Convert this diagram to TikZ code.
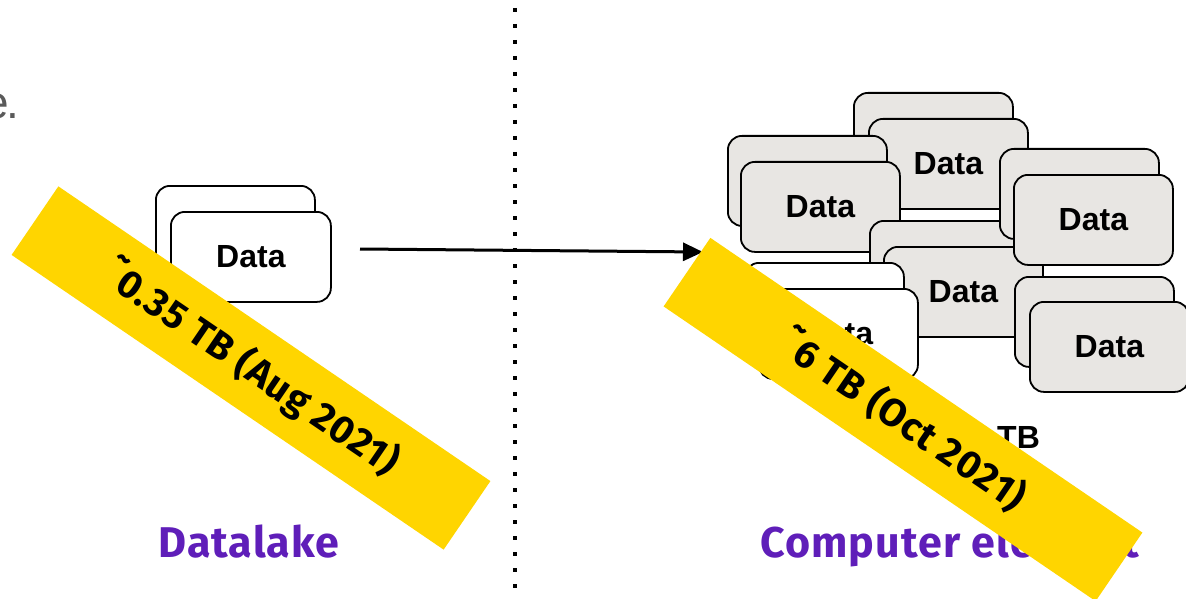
\documentclass[tikz,border=0pt]{standalone}
\usepackage{fontspec}
\setmainfont{Liberation Sans}
\newfontfamily\arialf{Liberation Sans}
\newfontfamily\ubf[LetterSpace=2.5]{Fira Sans}
\usetikzlibrary{arrows.meta}
\definecolor{cardgray}{HTML}{E8E6E3}
\definecolor{bandyellow}{HTML}{FFD500}
\definecolor{labelpurple}{HTML}{5F1EB9}
\definecolor{greytext}{HTML}{5A5A5A}
\begin{document}
\begin{tikzpicture}[x=1pt,y=-1pt,
 card/.style={draw=black, line width=1.8pt, rounded corners=14pt, fill=cardgray,
   minimum width=159pt, minimum height=90pt, inner sep=0pt, anchor=north west,
   font=\arialf\bfseries\fontsize{32}{36}\selectfont},
 wcard/.style={card, fill=white},
 band/.style={fill=bandyellow, minimum width=523pt, minimum height=83pt, inner sep=0pt,
   font=\ubf\bfseries\fontsize{39}{42}\selectfont},
 lbl/.style={text=labelpurple, font=\ubf\bfseries\fontsize{43}{48}\selectfont, anchor=base},
 conn/.style={line width=3pt, -{Triangle[length=20pt,width=18pt]}},
 dotline/.style={line width=4pt, dash pattern=on 4pt off 12pt}]
\useasboundingbox (0,0) rectangle (1186,599);

% fragment of text at top left
\node[anchor=base east, inner sep=0pt, text=greytext,
  font=\arialf\fontsize{46}{50}\selectfont] (frag) at (19,119) {e\kern-3pt.};

% dotted separator
\coordinate (septop) at (515,8);
\coordinate (sepbot) at (515,592);
\draw[dotline] (septop) -- (sepbot);

% left stack
\node[wcard] (Lb) at (155,185) {};
\node[wcard, minimum width=160pt] (Lf) at (170,211) {Data};

% right stacks
\node[card] (S1b) at (853,92) {};
\node[card] (S1f) at (868,118) {Data};
\node[card] (S2b) at (727,135) {};
\node[card] (S2f) at (740,161) {Data};
\node[card] (S4b) at (869,220) {};
\node[card] (S4f) at (883,246) {Data};
\node[card] (S3b) at (999,148) {};
\node[card] (S3f) at (1013,174) {Data};
\node[wcard] (S5b) at (744,262) {};
\node[wcard] (S5f) at (758,288) {Data};
\node[card] (S6b) at (1014,276) {};
\node[card] (S6f) at (1029,301) {Data};

% partially hidden size text
\node[anchor=base west, inner sep=0pt, font=\arialf\bfseries\fontsize{32}{36}\selectfont] (tb) at (997,448) {TB};

% labels
\node[lbl] (dl) at (249,557) {Datalake};
\node[lbl] (ce) at (950,557) {Computer element};

% arrow
\coordinate (as) at (360,249);
\coordinate (ae) at (703,252);
\draw[conn] (as) -- (ae);

% bands
\node[band, rotate=-34.3] (b1) at (251,368) {\raisebox{0.08em}{˜}0.35 TB (Aug 2021)};
\node[band, rotate=-34.3] (b2) at (903,419.5) {\raisebox{0.08em}{˜}6 TB (Oct 2021)};
\end{tikzpicture}
\end{document}
